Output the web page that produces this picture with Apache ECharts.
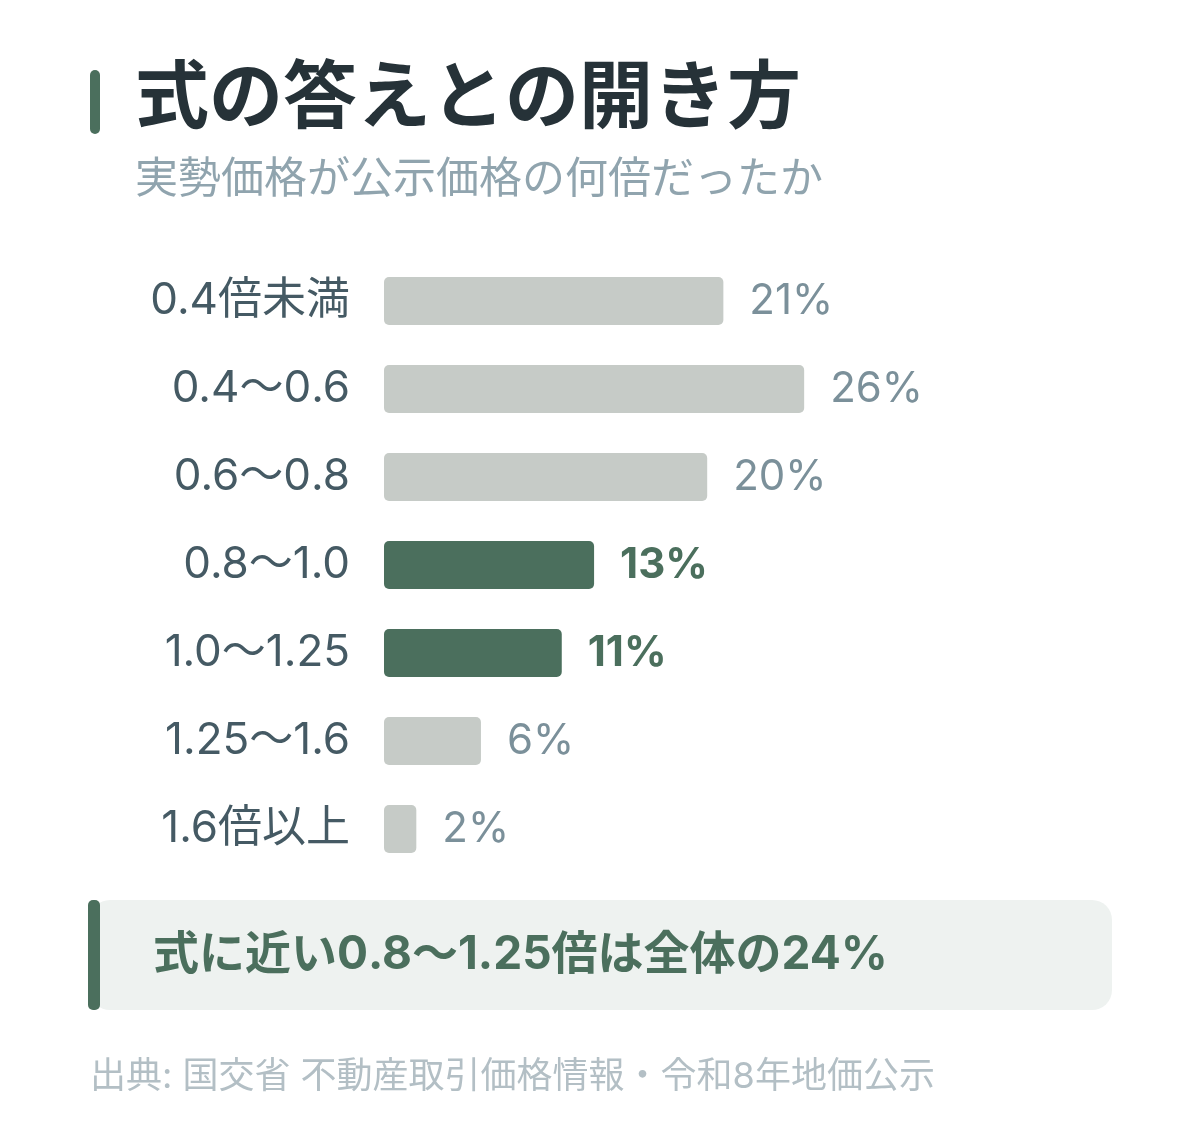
<!DOCTYPE html>
<html>
<head>
<meta charset="utf-8">
<script src="https://cdn.jsdelivr.net/npm/echarts@6/dist/echarts.min.js"></script>
<style>body{margin:0;background:#fff}</style>
</head>
<body>
<div id="main" style="width:1200px;height:1140px;"></div>
<script>
var categories = ['0.4倍未満', '0.4〜0.6', '0.6〜0.8', '0.8〜1.0', '1.0〜1.25', '1.25〜1.6', '1.6倍以上'];
var values = [21, 26, 20, 13, 11, 6, 2];
var highlight = [false, false, false, true, true, false, false];

var FONT = 'Inter, "Noto Sans CJK JP", sans-serif';
var GREEN = '#4b6f5d', GREY = '#c6cbc7';

var chart = echarts.init(document.getElementById('main'));
chart.setOption({
  backgroundColor: '#fff',
  animation: false,
  grid: { left: 384, top: 257, width: 808, height: 616 },
  xAxis: { type: 'value', min: 0, max: 50, show: false },
  yAxis: {
    type: 'category', data: categories, inverse: true,
    axisLine: { show: false }, axisTick: { show: false },
    axisLabel: { color: '#455a64', fontSize: 44, fontFamily: FONT, margin: 34 }
  },
  series: [{
    type: 'bar', barWidth: 48,
    data: values.map(function (v, i) {
      return {
        value: v,
        itemStyle: { color: highlight[i] ? GREEN : GREY, borderRadius: 5 },
        label: highlight[i] ? { color: GREEN, fontWeight: 'bold' } : {}
      };
    }),
    label: {
      show: true, position: 'right', distance: 26, formatter: '{c}%',
      color: '#7b909a', fontSize: 42, fontFamily: FONT
    }
  }],
  graphic: [
    { type: 'rect', shape: { x: 90, y: 70, width: 10, height: 64, r: 5 }, style: { fill: GREEN } },
    { type: 'text', x: 135, y: 100, style: { text: '式の答えとの開き方', font: 'bold 74px ' + FONT, fill: '#263238', verticalAlign: 'middle' } },
    { type: 'text', x: 135, y: 180, style: { text: '実勢価格が公示価格の何倍だったか', font: '43px ' + FONT, fill: '#90a4ae', verticalAlign: 'middle' } },
    { type: 'rect', shape: { x: 90, y: 900, width: 1022, height: 110, r: 20 }, style: { fill: '#eef2f0' } },
    { type: 'rect', shape: { x: 88, y: 900, width: 12, height: 110, r: 5 }, style: { fill: GREEN } },
    { type: 'text', x: 153, y: 955, style: { text: '式に近い0.8〜1.25倍は全体の24%', font: 'bold 46px ' + FONT, fill: GREEN, verticalAlign: 'middle' } },
    { type: 'text', x: 90, y: 1077, style: { text: '出典: 国交省 不動産取引価格情報・令和8年地価公示', font: '36px ' + FONT, fill: '#b3bfc5', verticalAlign: 'middle' } }
  ]
});
</script>
</body>
</html>
